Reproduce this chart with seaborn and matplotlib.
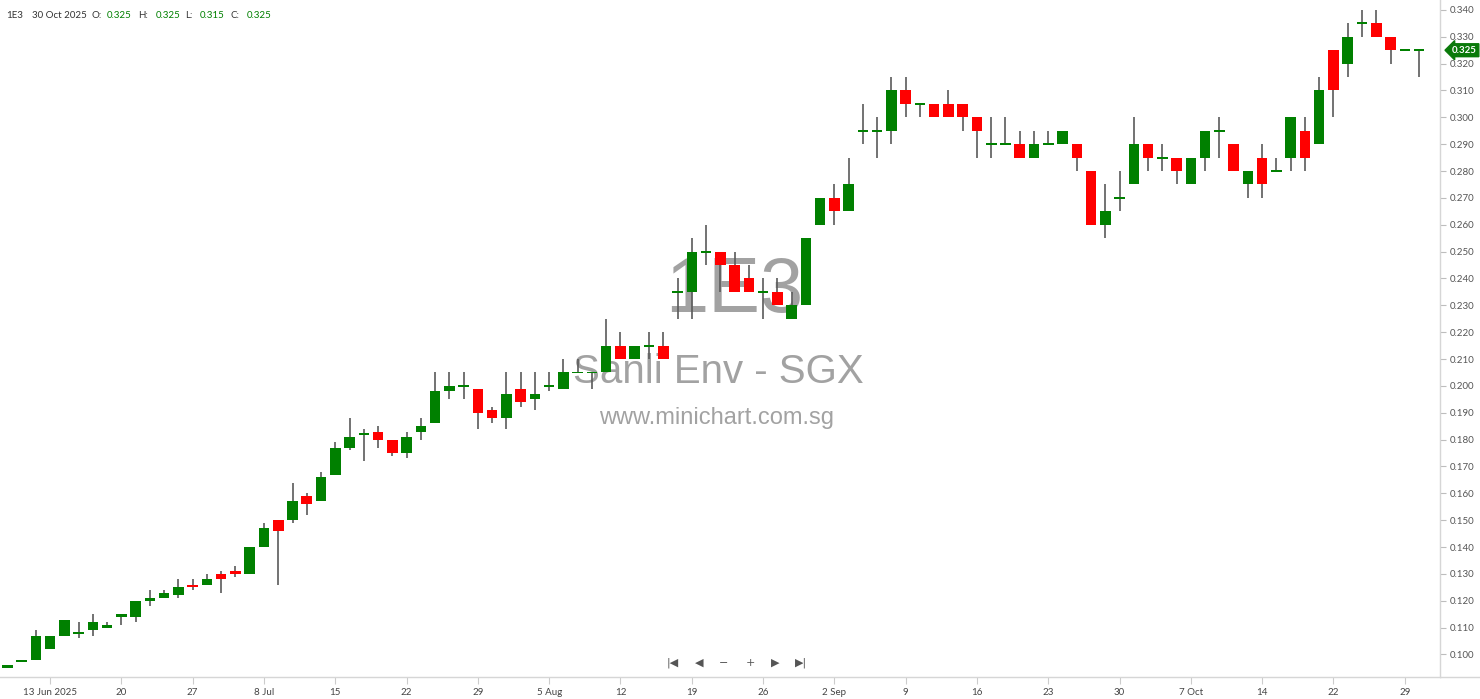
import numpy as np
import pandas as pd
import matplotlib
matplotlib.use("Agg")
import matplotlib.pyplot as plt
import matplotlib.transforms as mtransforms
from matplotlib.lines import Line2D
import seaborn as sns

# daily OHLC for 1E3 (Sanli Env), 100 trading sessions up to 30 Oct 2025
opens = [0.095, 0.097, 0.098, 0.102, 0.107, 0.108, 0.109, 0.110, 0.114, 0.114,
         0.120, 0.121, 0.122, 0.126, 0.126, 0.130, 0.131, 0.130, 0.140, 0.150,
         0.150, 0.159, 0.157, 0.167, 0.177, 0.182, 0.183, 0.180, 0.175, 0.183,
         0.186, 0.198, 0.200, 0.199, 0.191, 0.188, 0.199, 0.195, 0.200, 0.199,
         0.205, 0.205, 0.205, 0.215, 0.210, 0.215, 0.215, 0.235, 0.235, 0.250,
         0.250, 0.245, 0.240, 0.235, 0.235, 0.225, 0.230, 0.260, 0.270, 0.265,
         0.295, 0.295, 0.295, 0.310, 0.305, 0.305, 0.305, 0.305, 0.300, 0.290,
         0.290, 0.290, 0.285, 0.290, 0.290, 0.290, 0.280, 0.260, 0.270, 0.275,
         0.290, 0.285, 0.285, 0.275, 0.285, 0.295, 0.290, 0.275, 0.285, 0.280,
         0.285, 0.295, 0.290, 0.325, 0.320, 0.335, 0.335, 0.330, 0.325, 0.325]
highs = [0.096, 0.098, 0.109, 0.107, 0.113, 0.112, 0.115, 0.112, 0.115, 0.120,
         0.124, 0.124, 0.128, 0.128, 0.130, 0.131, 0.133, 0.140, 0.149, 0.150,
         0.164, 0.160, 0.168, 0.179, 0.188, 0.184, 0.185, 0.180, 0.183, 0.188,
         0.205, 0.205, 0.205, 0.199, 0.192, 0.205, 0.205, 0.205, 0.205, 0.210,
         0.210, 0.205, 0.225, 0.220, 0.215, 0.220, 0.220, 0.240, 0.255, 0.260,
         0.250, 0.250, 0.245, 0.240, 0.240, 0.235, 0.255, 0.270, 0.275, 0.285,
         0.305, 0.300, 0.315, 0.315, 0.305, 0.305, 0.310, 0.305, 0.300, 0.300,
         0.300, 0.295, 0.295, 0.295, 0.295, 0.290, 0.280, 0.275, 0.280, 0.300,
         0.290, 0.290, 0.285, 0.285, 0.295, 0.300, 0.290, 0.280, 0.290, 0.285,
         0.300, 0.300, 0.315, 0.325, 0.335, 0.340, 0.340, 0.330, 0.325, 0.325]
lows = [0.095, 0.097, 0.098, 0.102, 0.107, 0.106, 0.107, 0.110, 0.111, 0.112,
        0.118, 0.121, 0.121, 0.124, 0.126, 0.123, 0.129, 0.130, 0.140, 0.126,
        0.149, 0.152, 0.157, 0.167, 0.176, 0.172, 0.177, 0.174, 0.173, 0.180,
        0.186, 0.195, 0.195, 0.184, 0.186, 0.184, 0.192, 0.191, 0.198, 0.199,
        0.205, 0.199, 0.205, 0.210, 0.210, 0.210, 0.210, 0.225, 0.225, 0.245,
        0.235, 0.235, 0.235, 0.225, 0.230, 0.225, 0.230, 0.260, 0.260, 0.265,
        0.290, 0.285, 0.290, 0.300, 0.300, 0.300, 0.300, 0.295, 0.285, 0.285,
        0.290, 0.285, 0.285, 0.290, 0.290, 0.280, 0.260, 0.255, 0.265, 0.275,
        0.280, 0.280, 0.275, 0.275, 0.280, 0.285, 0.280, 0.270, 0.270, 0.280,
        0.280, 0.280, 0.290, 0.300, 0.315, 0.330, 0.330, 0.320, 0.325, 0.315]
closes = [0.096, 0.098, 0.107, 0.107, 0.113, 0.108, 0.112, 0.111, 0.115, 0.120,
          0.121, 0.123, 0.125, 0.125, 0.128, 0.128, 0.130, 0.140, 0.147, 0.146,
          0.157, 0.156, 0.166, 0.177, 0.181, 0.182, 0.180, 0.175, 0.181, 0.185,
          0.198, 0.200, 0.200, 0.190, 0.188, 0.197, 0.194, 0.197, 0.200, 0.205,
          0.205, 0.205, 0.215, 0.210, 0.215, 0.215, 0.210, 0.235, 0.250, 0.250,
          0.245, 0.235, 0.235, 0.235, 0.230, 0.230, 0.255, 0.270, 0.265, 0.275,
          0.295, 0.295, 0.310, 0.305, 0.305, 0.300, 0.300, 0.300, 0.295, 0.290,
          0.290, 0.285, 0.290, 0.290, 0.295, 0.285, 0.260, 0.265, 0.270, 0.290,
          0.285, 0.285, 0.280, 0.285, 0.295, 0.295, 0.280, 0.280, 0.275, 0.280,
          0.300, 0.285, 0.310, 0.310, 0.330, 0.335, 0.330, 0.325, 0.325, 0.325]

tick_labels = ["13 Jun 2025", "20", "27", "8 Jul", "15", "22", "29", "5 Aug", "12",
               "19", "26", "2 Sep", "9", "16", "23", "30", "7 Oct", "14", "22", "29"]
price_ticks = [0.100, 0.110, 0.120, 0.130, 0.140, 0.150, 0.160, 0.170, 0.180,
               0.190, 0.200, 0.210, 0.220, 0.230, 0.240, 0.250, 0.260, 0.270,
               0.280, 0.290, 0.300, 0.310, 0.320, 0.330, 0.340]

sns.set_theme(style="white")
plt.rcParams["font.family"] = ["Lato", "DejaVu Sans"]

df = pd.DataFrame({"open": opens, "high": highs, "low": lows, "close": closes})
df["up"] = df["close"] >= df["open"]
df["body_lo"] = df[["open", "close"]].min(axis=1)
df["body_h"] = (df["close"] - df["open"]).abs()
doji = df["body_h"] < 1e-9
df.loc[doji, "body_lo"] = df.loc[doji, "open"] - 0.00035
df.loc[doji, "body_h"] = 0.0007

GREEN = "#008000"
RED = "#ff0000"

fig = plt.figure(figsize=(14.8, 6.99), dpi=100)
ax = fig.add_axes([0, 22 / 699, 1440 / 1480, 677 / 699])

# wicks then bodies
ax.vlines(df.index, df["low"], df["high"], color="#5a5a5a", lw=1.2, zorder=2)
ax.bar(df.index, df["body_h"], bottom=df["body_lo"], width=0.74,
       color=np.where(df["up"], GREEN, RED), linewidth=0, zorder=3)

ax.set_xlim(-0.512, 100.47)
ax.set_ylim(0.0916, 0.3437)

# axes styling
for s in ["top", "left"]:
    ax.spines[s].set_visible(False)
for s in ["right", "bottom"]:
    ax.spines[s].set_color("#d6d6d6")
    ax.spines[s].set_linewidth(1)
fig.add_artist(Line2D([1440 / 1480, 1], [22 / 699, 22 / 699], color="#d6d6d6", lw=1))

ax.yaxis.tick_right()
ax.set_yticks(price_ticks)
ax.set_yticklabels([f"{v:.3f}" for v in price_ticks])
ax.tick_params(axis="y", length=4, width=0.8, color="#bdbdbd", labelsize=7,
               labelcolor="#555555", pad=3, right=True, left=False)

ax.set_xticks(np.arange(3, len(df), 5))
ax.set_xticklabels(tick_labels)
ax.tick_params(axis="x", length=5, width=0.8, color="#cccccc", labelsize=7,
               labelcolor="#444444", pad=3, bottom=True)
ax.grid(False)

# watermark behind the candles
wm = "#a2a2a2"
ax.text(734 / 1480, 1 - 292 / 699, "1E3", transform=fig.transFigure, ha="center",
        va="center", fontsize=56, color=wm, family="Liberation Sans", zorder=1)
ax.text(718 / 1480, 1 - 372 / 699, "Sanli Env - SGX", transform=fig.transFigure,
        ha="center", va="center", fontsize=29, color=wm, family="Liberation Sans", zorder=1)
ax.text(717 / 1480, 1 - 418 / 699, "www.minichart.com.sg", transform=fig.transFigure,
        ha="center", va="center", fontsize=17, color=wm, family="Liberation Sans", zorder=1)

# header line
hy = 1 - 15 / 699
header = [(6, "1E3", "#333333"), (32, "30 Oct 2025", "#333333"), (91, "O:", "#333333"),
          (107, "0.325", GREEN), (138, "H:", "#333333"), (156, "0.325", GREEN),
          (185, "L:", "#333333"), (200, "0.315", GREEN), (231, "C:", "#333333"),
          (247, "0.325", GREEN)]
for px, txt, col in header:
    fig.text(px / 1480, hy, txt, ha="left", va="center", fontsize=7, color=col)

# last price tag
last = df["close"].iloc[-1]
tag_tr = mtransforms.blended_transform_factory(fig.transFigure, ax.transData)
ax.text(1452 / 1480, last, f"{last:.3f}", transform=tag_tr, ha="left", va="center",
        fontsize=7, color="white", fontweight="bold", clip_on=False, zorder=5,
        bbox=dict(boxstyle="larrow,pad=0.2", fc="#0a7a0a", ec="#0a7a0a"))

# navigation buttons
ny = 1 - 663 / 699
for px, g in [(673, "|◀"), (699, "◀"), (724, "−"), (750, "+"), (775, "▶"), (801, "▶|")]:
    fig.text(px / 1480, ny, g, ha="center", va="center", fontsize=8,
             color="#555555", family="DejaVu Sans")

fig.savefig("out.png", dpi=100)
